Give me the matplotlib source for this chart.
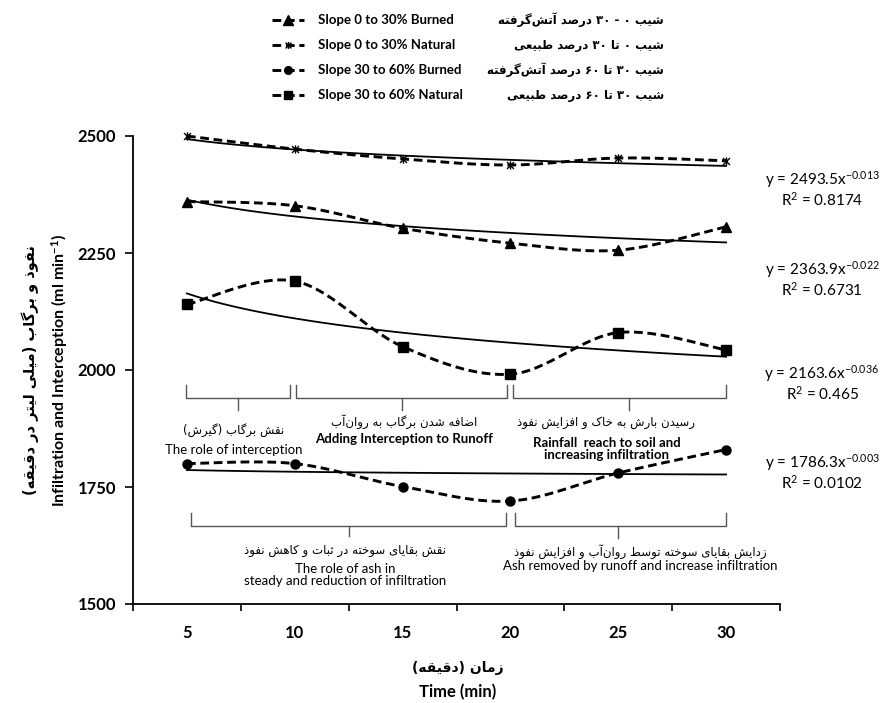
import re

import numpy as np
import matplotlib
matplotlib.use("Agg")
import matplotlib.pyplot as plt
from matplotlib.lines import Line2D
from matplotlib.path import Path

plt.rcParams["font.family"] = ["Lato", "DejaVu Sans"]
plt.rcParams["mathtext.fontset"] = "custom"
plt.rcParams["mathtext.rm"] = "Lato"
plt.rcParams["mathtext.it"] = "Lato"
plt.rcParams["mathtext.default"] = "regular"

# ── Data ──────────────────────────────────────────────────────────────────────
time_min = [5, 10, 15, 20, 25, 30]
natural_0_30 = [2500, 2472, 2451, 2438, 2453, 2447]
burned_0_30 = [2360, 2351, 2303, 2271, 2256, 2306]
natural_30_60 = [2140, 2190, 2050, 1991, 2080, 2043]
burned_30_60 = [1800, 1800, 1751, 1720, 1780, 1830]

# power trendlines y = a * x^b  (x = category index 1..6)
trend_a = [2493.5, 2363.9, 2163.6, 1786.3]
trend_b = [-0.013, -0.022, -0.036, -0.003]
r_squared = ["0.8174", "0.6731", "0.465", "0.0102"]

legend_en = ["Slope 0 to 30% Burned", "Slope 0 to 30% Natural",
             "Slope 30 to 60% Burned", "Slope 30 to 60% Natural"]
legend_fa = ["شیب ۰ - ۳۰ درصد آتش‌گرفته", "شیب ۰ تا ۳۰ درصد طبیعی",
             "شیب ۳۰ تا ۶۰ درصد آتش‌گرفته", "شیب ۳۰ تا ۶۰ درصد طبیعی"]

ylabel_en = "Infiltration and Interception (ml min$^{-1}$)"
ylabel_fa = "نفوذ و برگاب (میلی لیتر در دقیقه)"
xlabel_en = "Time (min)"
xlabel_fa = "زمان (دقیقه)"

top_notes_fa = ["نقش برگاب (گیرش)", "اضافه شدن برگاب به روان‌آب",
                "رسیدن بارش به خاک و افزایش نفوذ"]
top_notes_en = ["The role of interception", "Adding Interception to Runoff",
                "Rainfall  reach to soil and\nincreasing infiltration"]
bottom_notes_fa = ["نقش بقایای سوخته در ثبات و کاهش نفوذ",
                   "زدایش بقایای سوخته توسط روان‌آب و افزایش نفوذ"]
bottom_notes_en = ["The role of ash in\nsteady and reduction of infiltration",
                   "Ash removed by runoff and increase infiltration"]


# ── Minimal Persian shaping (matplotlib has no complex text layout) ──────────
FORMS = {  # isolated, final, initial, medial
    "\u0627": (0xFE8D, 0xFE8E, None, None),
    "\u0622": (0xFE81, 0xFE82, None, None),
    "\u0628": (0xFE8F, 0xFE90, 0xFE91, 0xFE92),
    "\u062A": (0xFE95, 0xFE96, 0xFE97, 0xFE98),
    "\u062B": (0xFE99, 0xFE9A, 0xFE9B, 0xFE9C),
    "\u062E": (0xFEA5, 0xFEA6, 0xFEA7, 0xFEA8),
    "\u062F": (0xFEA9, 0xFEAA, None, None),
    "\u0630": (0xFEAB, 0xFEAC, None, None),
    "\u0631": (0xFEAD, 0xFEAE, None, None),
    "\u0632": (0xFEAF, 0xFEB0, None, None),
    "\u0633": (0xFEB1, 0xFEB2, 0xFEB3, 0xFEB4),
    "\u0634": (0xFEB5, 0xFEB6, 0xFEB7, 0xFEB8),
    "\u0635": (0xFEB9, 0xFEBA, 0xFEBB, 0xFEBC),
    "\u0636": (0xFEBD, 0xFEBE, 0xFEBF, 0xFEC0),
    "\u0637": (0xFEC1, 0xFEC2, 0xFEC3, 0xFEC4),
    "\u0639": (0xFEC9, 0xFECA, 0xFECB, 0xFECC),
    "\u0641": (0xFED1, 0xFED2, 0xFED3, 0xFED4),
    "\u0642": (0xFED5, 0xFED6, 0xFED7, 0xFED8),
    "\u0644": (0xFEDD, 0xFEDE, 0xFEDF, 0xFEE0),
    "\u0645": (0xFEE1, 0xFEE2, 0xFEE3, 0xFEE4),
    "\u0646": (0xFEE5, 0xFEE6, 0xFEE7, 0xFEE8),
    "\u0647": (0xFEE9, 0xFEEA, 0xFEEB, 0xFEEC),
    "\u0648": (0xFEED, 0xFEEE, None, None),
    "\u06A9": (0xFB8E, 0xFB8F, 0xFB90, 0xFB91),
    "\u06AF": (0xFB92, 0xFB93, 0xFB94, 0xFB95),
    "\u06CC": (0xFBFC, 0xFBFD, 0xFBFE, 0xFBFF),
}


def fa(text):
    out = []
    for i, ch in enumerate(text):
        f = FORMS.get(ch)
        if f is None:
            if ch != "\u200c":
                out.append(ch)
            continue
        prev = text[i - 1] if i > 0 else ""
        nxt = text[i + 1] if i + 1 < len(text) else ""
        jp = prev in FORMS and FORMS[prev][2] is not None
        jn = f[2] is not None and nxt in FORMS
        if jp and jn:
            out.append(chr(f[3]))
        elif jp:
            out.append(chr(f[1]))
        elif jn:
            out.append(chr(f[2]))
        else:
            out.append(chr(f[0]))
    s = "".join(out)[::-1].translate(str.maketrans("()", ")("))
    return re.sub(r"[0-9\u06F0-\u06F9]+", lambda m: m.group(0)[::-1], s)


def smooth(xs, ys, steps=30):
    """Bezier smoothing through the points, like a spreadsheet 'smoothed line'."""
    x = np.asarray(xs, float)
    y = np.asarray(ys, float)
    n = len(x)
    px, py = [], []
    for i in range(n - 1):
        i0, i3 = max(i - 1, 0), min(i + 2, n - 1)
        c1 = (x[i] + (x[i + 1] - x[i0]) / 6, y[i] + (y[i + 1] - y[i0]) / 6)
        c2 = (x[i + 1] - (x[i3] - x[i]) / 6, y[i + 1] - (y[i3] - y[i]) / 6)
        t = np.linspace(0, 1, steps)
        a, b, c, d = (1 - t) ** 3, 3 * (1 - t) ** 2 * t, 3 * (1 - t) * t ** 2, t ** 3
        px.append(a * x[i] + b * c1[0] + c * c2[0] + d * x[i + 1])
        py.append(a * y[i] + b * c1[1] + c * c2[1] + d * y[i + 1])
    return np.concatenate(px), np.concatenate(py)


STAR = Path([(-1, -1), (1, 1), (-1, 1), (1, -1), (0, -1.2), (0, 1.2)],
            [Path.MOVETO, Path.LINETO, Path.MOVETO, Path.LINETO, Path.MOVETO, Path.LINETO])

FA_FONT = "DejaVu Sans"
W, H = 889, 703


def fx(px):
    return px / W


def fy(py):
    return 1 - py / H


fig = plt.figure(figsize=(W / 100, H / 100), dpi=100)
ax = fig.add_axes([fx(133), fy(604), (780 - 133) / W, (604 - 136) / H])

cats = np.arange(len(time_min))
series = [
    (burned_0_30, "^", 7.5, "black"),
    (natural_0_30, STAR, 6, "none"),
    (burned_30_60, "o", 6.5, "black"),
    (natural_30_60, "s", 6.5, "black"),
]
# series order of the trend equations: natural 0-30, burned 0-30, natural 30-60, burned 30-60
trend_order = [natural_0_30, burned_0_30, natural_30_60, burned_30_60]

for vals, mk, ms, fc in series:
    sx, sy = smooth(cats, vals)
    ax.plot(sx, sy, color="black", lw=2.1, dashes=(3, 1.6), clip_on=False, zorder=3)
    ax.plot(cats, vals, ls="none", marker=mk, ms=ms, color="black",
            mfc="black", mew=1.0, clip_on=False, zorder=4)

xi = np.linspace(1, 6, 60)
for a, b in zip(trend_a, trend_b):
    ax.plot(xi - 1, a * xi ** b, color="black", lw=1.3, zorder=2, clip_on=False)

ax.set_xlim(-0.5, 5.5)
ax.set_ylim(1500, 2500)
ax.set_yticks(np.arange(1500, 2501, 250))
ax.set_xticks(np.arange(-0.5, 5.6, 1))
ax.set_xticklabels([])
ax.set_xticks(cats, minor=True)
ax.set_xticklabels([str(t) for t in time_min], minor=True)
ax.tick_params(axis="x", which="major", direction="out", length=5, width=1.2)
ax.tick_params(axis="x", which="minor", length=0, pad=15, labelsize=12)
ax.tick_params(axis="y", direction="out", length=6, width=1.2, labelsize=12, pad=6)
for lab in ax.get_xticklabels(minor=True) + ax.get_yticklabels():
    lab.set_fontweight("bold")
for side in ("top", "right"):
    ax.spines[side].set_visible(False)
for side in ("left", "bottom"):
    ax.spines[side].set_linewidth(1.3)


# ── Brackets and notes ────────────────────────────────────────────────────────
def bracket(x0, x1, ytop, ybase, ytip, xmid=None):
    xm = (x0 + x1) / 2 if xmid is None else xmid
    ax.plot([x0, x0, x1, x1], [ytop, ybase, ybase, ytop], color="#555555", lw=1.0)
    ax.plot([xm, xm], [ybase, ytip], color="#555555", lw=1.0)


bracket(-0.01, 0.96, 1968, 1940, 1915)
bracket(1.01, 2.97, 1968, 1940, 1915)
bracket(3.02, 5.0, 1968, 1940, 1915, xmid=4.1)
bracket(0.04, 2.96, 1694, 1667, 1645)
bracket(3.04, 5.0, 1694, 1667, 1640, xmid=4.0)

top_x = [0.43, 2.01, 3.89]
top_y_fa = [1872, 1889, 1887]
top_y_en = [1829, 1853, 1832]
for x, yf, ye, tf, te in zip(top_x, top_y_fa, top_y_en, top_notes_fa, top_notes_en):
    ax.text(x, yf, fa(tf), family=FA_FONT, fontsize=8.5, ha="center", va="center")
    ax.text(x, ye, te, fontsize=9.5, ha="center", va="center", linespacing=1.0,
            weight="bold" if x > 1 else "normal")

bot_x = [1.47, 4.2]
bot_y_fa = [1615, 1611]
bot_y_en = [1562, 1581]
for x, yf, ye, tf, te in zip(bot_x, bot_y_fa, bot_y_en, bottom_notes_fa, bottom_notes_en):
    ax.text(x, yf, fa(tf), family=FA_FONT, fontsize=8.5, ha="center", va="center")
    ax.text(x, ye, te, fontsize=9.5, ha="center", va="center", linespacing=1.0)

# ── Trend equations (right) ──────────────────────────────────────────────────
eq_rows = [180, 270, 374, 463]
for py, a, b, r2 in zip(eq_rows, trend_a, trend_b, r_squared):
    fig.text(fx(822), fy(py), f"y = {a}x$^{{{b}}}$", fontsize=11, ha="center", va="center")
    fig.text(fx(822), fy(py + 20), f"R$^2$ = {r2}", fontsize=11, ha="center", va="center")

# ── Axis labels ──────────────────────────────────────────────────────────────
fig.text(fx(30), fy(370), fa(ylabel_fa), family=FA_FONT, weight="bold", fontsize=10.5,
         rotation=90, ha="center", va="center")
fig.text(fx(60), fy(370), ylabel_en, weight="bold", fontsize=11.5,
         rotation=90, ha="center", va="center")
fig.text(fx(458), fy(668), fa(xlabel_fa), family=FA_FONT, weight="bold", fontsize=10,
         ha="center", va="center")
fig.text(fx(458), fy(692), xlabel_en, weight="bold", fontsize=12, ha="center", va="center")

# ── Legend (top) ─────────────────────────────────────────────────────────────
legend_rows = [20, 45, 70, 95]
for py, (vals, mk, ms, fc), en, far in zip(legend_rows, series, legend_en, legend_fa):
    y = fy(py)
    fig.add_artist(Line2D([fx(272), fx(288), fx(304)], [y, y, y], color="black", lw=2.1,
                          dashes=(3, 1.6), marker=mk, markevery=[1], ms=ms - 1,
                          mfc="black", transform=fig.transFigure))
    fig.text(fx(318), y, en, weight="bold", fontsize=9.5, ha="left", va="center")
    fig.text(fx(664), y, fa(far), family=FA_FONT, weight="bold", fontsize=8.5,
             ha="right", va="center")

fig.savefig("out.png", dpi=100)
